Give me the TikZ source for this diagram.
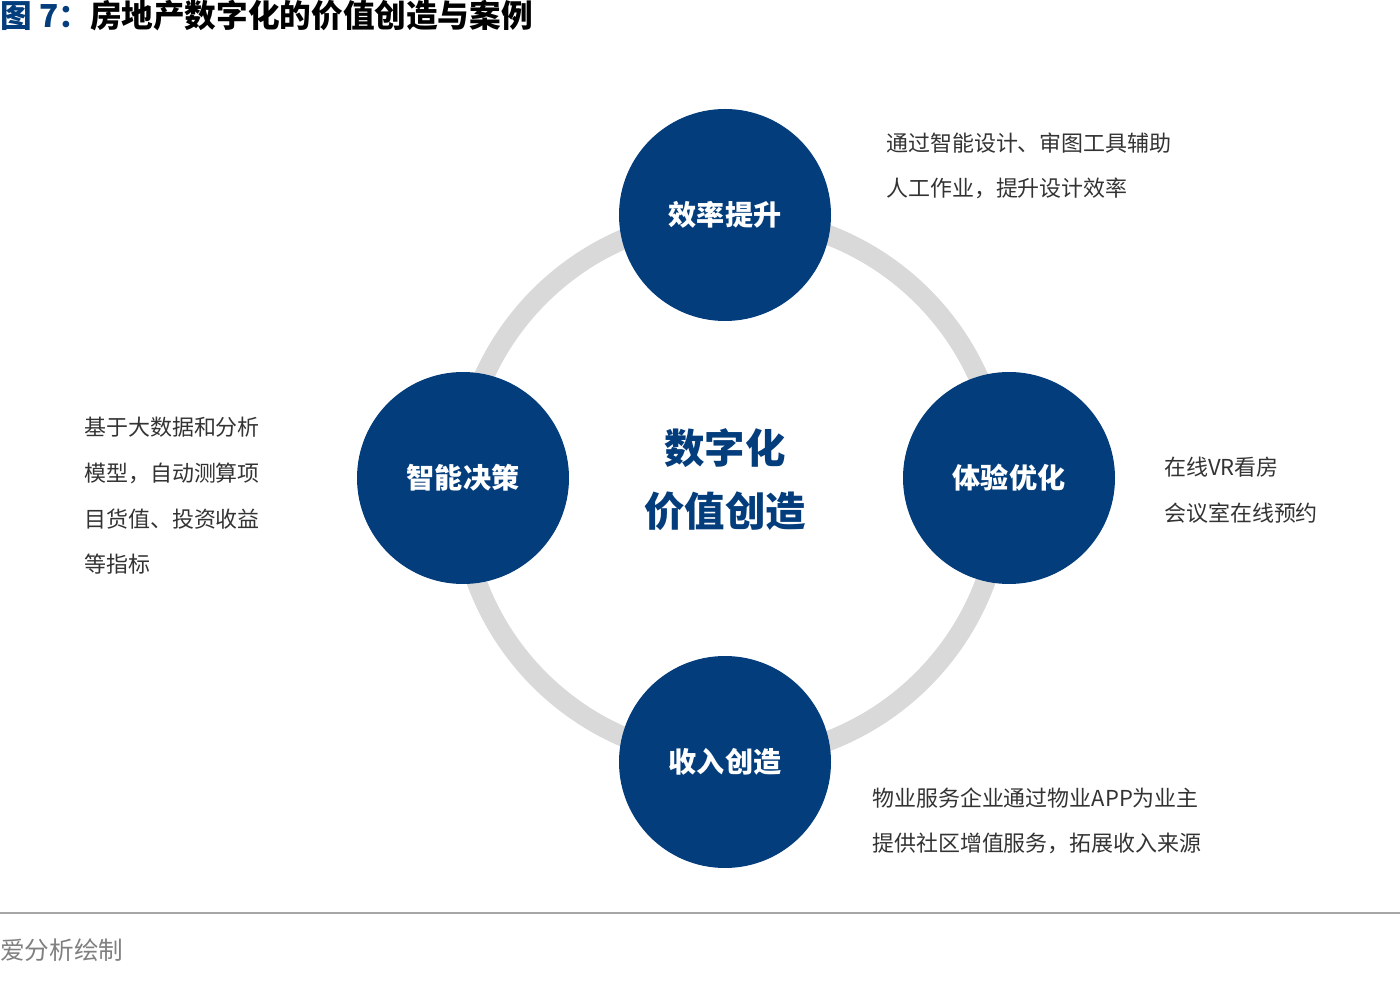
\documentclass[tikz,border=0pt]{standalone}
\usepackage{fontspec}
\newfontfamily\cjk{Noto Sans CJK SC}
\newfontfamily\cjkb{Noto Sans CJK SC Bold}[AutoFakeBold=0]
\newfontfamily\cjki{Noto Sans CJK SC}[AutoFakeSlant=0.2]
\definecolor{navy}{HTML}{033D7C}
\definecolor{ring}{HTML}{D9D9D9}
\definecolor{txt}{HTML}{333333}
\begin{document}
\begin{tikzpicture}[x=0.02cm,y=-0.02cm,
  bub/.style={circle,fill=navy,minimum size=212*0.02cm,inner sep=0,text=white,font=\cjk\bfseries\fontsize{16}{18}\selectfont},
  side/.style={anchor=west,align=left,text=txt,font=\cjk\fontsize{12.5}{26}\selectfont}]
\useasboundingbox (0,0) rectangle (1400,982);
\node[anchor=north west,inner sep=0,font=\cjk\bfseries\fontsize{18}{20}\selectfont] (title) at (0,0) {\textcolor{navy}{图 7：}房地产数字化的价值创造与案例};
\draw[ring,line width=20*0.02cm] (731,488) circle (271);
\node[bub] (a) at (725,215) {效率提升};
\node[bub] (b) at (463,478) {智能决策};
\node[bub] (c) at (1009,478) {体验优化};
\node[bub] (d) at (725,762) {收入创造};
\node[align=center,text=navy,font=\cjk\bfseries\fontsize{23}{36}\selectfont] (m) at (725,480) {数字化\\价值创造};
\node[side] (ta) at (880,166) {通过智能设计、审图工具辅助\\人工作业，提升设计效率};
\node[side] (tb) at (78,496) {基于大数据和分析\\模型，自动测算项\\目货值、投资收益\\等指标};
\node[side] (tc) at (1158,490) {在线VR看房\\会议室在线预约};
\node[side] (td) at (866,821) {物业服务企业通过物业APP为业主\\提供社区增值服务，拓展收入来源};
\coordinate (l1) at (0,913); \coordinate (l2) at (1400,913);
\draw[gray!70,line width=1.5*0.02cm] (l1) -- (l2);
\node[anchor=west,inner sep=0,text=gray,font=\cjki\fontsize{14}{16}\selectfont] (src) at (0,950) {爱分析绘制};
\end{tikzpicture}
\end{document}
